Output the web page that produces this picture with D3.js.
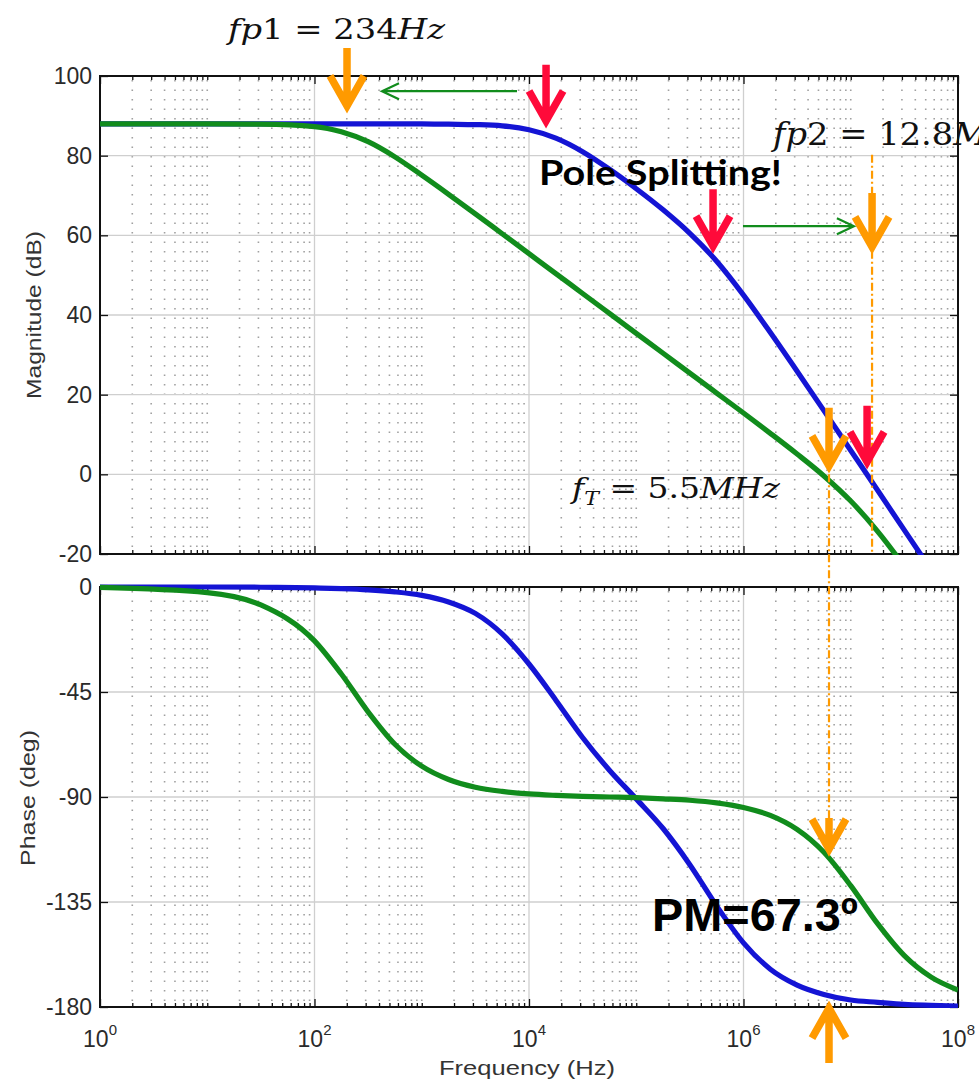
<!DOCTYPE html>
<html>
<head>
<meta charset="utf-8">
<script src="https://cdn.jsdelivr.net/npm/d3@7"></script>
<style>
  body { margin: 0; background: #fff; }
  svg { display: block; }
</style>
</head>
<body>
<div id="chart"></div>
<script>
// frequencies the curves were read at (Hz), quarter-decade steps
const freqHz = [1, 10, 31.6, 100, 178, 316, 562, 1e3, 1.78e3, 3.16e3, 5.62e3,
  1e4, 1.78e4, 3.16e4, 5.62e4, 1e5, 1.78e5, 3.16e5, 5.62e5,
  1e6, 1.78e6, 3.16e6, 5.62e6, 1e7, 1.78e7, 3.16e7, 5.62e7, 1e8];

// magnitude (dB): blue = before compensation, green = after (pole splitting)
const magBlue = [88, 88, 88, 88, 88, 88, 88, 88, 87.9, 87.8, 87.5,
  86.5, 84.4, 81.0, 76.6, 71.7, 66.4, 60.5, 53.5,
  45.0, 35.6, 25.9, 16.0, 6.0, -4.0, -14.0, -24.0, -34.0];
const magGreen = [88, 88, 87.9, 87.3, 86.0, 83.5, 79.7, 75.1, 70.3, 65.4, 60.4,
  55.4, 50.4, 45.4, 40.4, 35.4, 30.4, 25.4, 20.4,
  15.4, 10.3, 5.1, -0.4, -6.7, -14.3, -23.1, -32.7, -42.5];

// phase (deg)
const phaseBlue = [0, 0, -0.1, -0.4, -0.7, -1.2, -2.1, -3.6, -6.4, -11.3, -20.1,
  -33.0, -48.5, -64.5, -78.5, -90.8, -103.5, -119.0, -136.7,
  -152.5, -163.8, -170.6, -174.6, -177.0, -178.0, -178.9, -179.3, -179.6];
const phaseGreen = [-0.2, -2.4, -7.7, -23.1, -37.3, -53.5, -67.4, -76.8, -82.5, -85.8, -87.6,
  -88.7, -89.3, -89.7, -90.0, -90.3, -90.8, -91.4, -92.5,
  -94.5, -97.9, -103.9, -113.7, -128.0, -144.3, -158.0, -167.2, -172.7];

// axis ticks
const majorFreq = [1, 1e2, 1e4, 1e6, 1e8];
const xExponents = ['0', '2', '4', '6', '8'];
const magTicks = [-20, 0, 20, 40, 60, 80, 100];
const phaseTicks = [-180, -135, -90, -45, 0];

// hand-drawn annotations, in data units: [freq Hz, from, to]
const orangeMagArrows = [[201, 107, 91], [1.58e7, 70.6, 55.6], [6.27e6, 16.7, 0.6]];
const redMagArrows = [[14420, 102.8, 87.2], [5.2e5, 71.6, 55.8], [1.42e7, 17.2, 1.6]];
const orangePhaseArrows = [[6.27e6, -99, -114.9], [6.27e6, -204, -177.9]];
// shift arrows: [from Hz, to Hz, dB]
const shiftArrows = [[7727, 426, 96.2], [9.89e5, 1.07e7, 62.3]];

const W = 979, H = 1083;
const BLUE = '#1414d4', GREEN = '#118c1c', ORANGE = '#ff9a00', RED = '#ff0a3a';

const svg = d3.select('#chart').append('svg')
  .attr('width', W).attr('height', H)
  .style('background', '#fff');

const x = d3.scaleLog().domain([1, 1e8]).range([100, 958]);
const yMag = d3.scaleLinear().domain([-20, 100]).range([554, 76]);
const yPh = d3.scaleLinear().domain([-180, 0]).range([1007, 587]);

const minorFreq = x.ticks().filter(d => !majorFreq.includes(d));

function panel(y, yTicks, id, series) {
  const top = y.range()[1], bottom = y.range()[0];
  const left = x.range()[0], right = x.range()[1];
  const g = svg.append('g');

  // minor grid, dotted
  g.append('g').selectAll('line').data(minorFreq).join('line')
    .attr('x1', d => x(d)).attr('x2', d => x(d))
    .attr('y1', top + 4).attr('y2', bottom)
    .attr('stroke', '#a0a0a0').attr('stroke-width', 1.6)
    .attr('stroke-dasharray', '1.6,7.9');

  // major grid
  g.append('g').selectAll('line').data(majorFreq.slice(1, -1)).join('line')
    .attr('x1', d => x(d)).attr('x2', d => x(d))
    .attr('y1', top).attr('y2', bottom)
    .attr('stroke', '#cfcfcf').attr('stroke-width', 1.3);
  g.append('g').selectAll('line').data(yTicks.slice(1, -1)).join('line')
    .attr('x1', left).attr('x2', right)
    .attr('y1', d => y(d)).attr('y2', d => y(d))
    .attr('stroke', '#cfcfcf').attr('stroke-width', 1.3);

  // axes, ticks pointing inward
  const yAxis = g.append('g').attr('transform', `translate(${left},0)`)
    .call(d3.axisLeft(y).tickValues(yTicks).tickSize(-8).tickPadding(8)
      .tickFormat(d => String(d)));
  yAxis.selectAll('text')
    .attr('font-family', 'Liberation Sans, Arial, sans-serif')
    .attr('font-size', 23).attr('fill', '#2a2a2a');
  g.append('g').attr('transform', `translate(${right},0)`)
    .call(d3.axisRight(y).tickValues(yTicks).tickSize(-8).tickFormat(''));
  [[d3.axisBottom, bottom], [d3.axisTop, top]].forEach(([ax, pos]) => {
    g.append('g').attr('transform', `translate(0,${pos})`)
      .call(ax(x).tickValues(majorFreq).tickSize(-8).tickFormat(''));
    g.append('g').attr('transform', `translate(0,${pos})`)
      .call(ax(x).tickValues(minorFreq).tickSize(-4).tickFormat(''));
  });
  g.selectAll('.domain').remove();
  g.selectAll('.tick line').attr('stroke', '#111').attr('stroke-width', 1.3);

  g.append('rect')
    .attr('x', left).attr('y', top)
    .attr('width', right - left).attr('height', bottom - top)
    .attr('fill', 'none').attr('stroke', '#111').attr('stroke-width', 2);

  // curves
  svg.append('clipPath').attr('id', id).append('rect')
    .attr('x', left).attr('y', top - 3)
    .attr('width', right - left).attr('height', bottom - top + 4);
  const line = d3.line()
    .x((d, i) => x(freqHz[i]))
    .y(d => y(d))
    .curve(d3.curveMonotoneX);
  const curves = svg.append('g').attr('clip-path', `url(#${id})`);
  series.forEach(([vals, color]) => {
    curves.append('path')
      .attr('d', line(vals))
      .attr('fill', 'none').attr('stroke', color)
      .attr('stroke-width', 5.2).attr('stroke-linejoin', 'round');
  });
}

panel(yMag, magTicks, 'clipMag', [[magBlue, BLUE], [magGreen, GREEN]]);
panel(yPh, phaseTicks, 'clipPh', [[phaseBlue, BLUE], [phaseGreen, GREEN]]);

// x tick labels, 10^n
const xLabels = svg.append('g')
  .attr('font-family', 'Liberation Sans, Arial, sans-serif')
  .attr('fill', '#2a2a2a');
majorFreq.forEach((f, i) => {
  const t = xLabels.append('text')
    .attr('x', x(f)).attr('y', 1047)
    .attr('text-anchor', 'middle').attr('font-size', 23);
  t.append('tspan').text('10');
  t.append('tspan').attr('font-size', 15).attr('dy', -12).text(xExponents[i]);
});

// axis titles
const titleFont = 'Liberation Sans, Arial, sans-serif';
svg.append('text')
  .attr('transform', 'translate(41,315) rotate(-90)')
  .attr('text-anchor', 'middle')
  .attr('font-family', titleFont).attr('font-size', 20).attr('fill', '#333')
  .attr('textLength', 168).attr('lengthAdjust', 'spacingAndGlyphs')
  .text('Magnitude (dB)');
svg.append('text')
  .attr('transform', 'translate(35,798) rotate(-90)')
  .attr('text-anchor', 'middle')
  .attr('font-family', titleFont).attr('font-size', 20).attr('fill', '#333')
  .attr('textLength', 136).attr('lengthAdjust', 'spacingAndGlyphs')
  .text('Phase (deg)');
svg.append('text')
  .attr('x', 527).attr('y', 1075)
  .attr('text-anchor', 'middle')
  .attr('font-family', titleFont).attr('font-size', 21).attr('fill', '#333')
  .attr('textLength', 176).attr('lengthAdjust', 'spacingAndGlyphs')
  .text('Frequency (Hz)');

// guide lines (dash-dot)
const guides = svg.append('g')
  .attr('stroke', ORANGE).attr('stroke-width', 2.2)
  .attr('stroke-dasharray', '8,3,2,3').attr('fill', 'none');
guides.append('line')
  .attr('x1', x(1.58e7)).attr('x2', x(1.58e7))
  .attr('y1', yMag(80.2)).attr('y2', yMag(-20));
guides.append('line')
  .attr('x1', x(6.27e6)).attr('x2', x(6.27e6))
  .attr('y1', yMag(0)).attr('y2', yPh(-99));

// thick arrows
function thickArrow(px, y0, y1, color) {
  const s = Math.sign(y1 - y0);
  const tip = y1 - 6 * s;
  svg.append('path')
    .attr('d', `M${px},${y0}V${tip}M${px - 17},${tip - 30 * s}L${px},${tip}L${px + 17},${tip - 30 * s}`)
    .attr('fill', 'none').attr('stroke', color)
    .attr('stroke-width', 7.5).attr('stroke-linejoin', 'miter');
}
orangeMagArrows.forEach(([f, a, b]) => thickArrow(x(f), yMag(a), yMag(b), ORANGE));
redMagArrows.forEach(([f, a, b]) => thickArrow(x(f), yMag(a), yMag(b), RED));
orangePhaseArrows.forEach(([f, a, b]) => thickArrow(x(f), yPh(a), yPh(b), ORANGE));

// thin green shift arrows
shiftArrows.forEach(([f0, f1, v]) => {
  const x0 = x(f0), x1 = x(f1), yy = yMag(v);
  const s = Math.sign(x1 - x0);
  svg.append('path')
    .attr('d', `M${x0},${yy}H${x1}M${x1 - 17 * s},${yy - 8}L${x1},${yy}L${x1 - 17 * s},${yy + 8}`)
    .attr('fill', 'none').attr('stroke', GREEN).attr('stroke-width', 2.2);
});

// math labels
const mathFont = 'DejaVu Serif, serif';
function mathText(px, py, size, parts) {
  const t = svg.append('text')
    .attr('x', px).attr('y', py)
    .attr('font-family', mathFont).attr('font-size', size).attr('fill', '#111');
  parts.forEach(p => {
    const sp = t.append('tspan').text(p.t);
    if (p.i) sp.attr('font-style', 'italic');
    if (p.size) sp.attr('font-size', p.size);
    if (p.dy) sp.attr('dy', p.dy);
  });
  return t;
}
mathText(228, 39, 27, [{t: 'fp', i: 1}, {t: '1 = 234'}, {t: 'Hz', i: 1}])
  .attr('textLength', 217).attr('lengthAdjust', 'spacingAndGlyphs');

// runs past the right edge, as in the original slide
mathText(773, 145, 31, [{t: 'fp', i: 1}, {t: '2 = 12.8'}, {t: 'MHz', i: 1}])
  .attr('textLength', 262).attr('lengthAdjust', 'spacingAndGlyphs');

mathText(572, 498, 27, [
  {t: 'f', i: 1}, {t: 'T', i: 1, size: 18, dy: 7}, {t: ' = 5.5', dy: -7}, {t: 'MHz', i: 1}])
  .attr('textLength', 208).attr('lengthAdjust', 'spacingAndGlyphs');

svg.append('text')
  .attr('x', 539).attr('y', 185)
  .attr('font-family', 'Lato, Open Sans, sans-serif')
  .attr('font-weight', 700).attr('font-size', 34).attr('fill', '#000')
  .attr('textLength', 243).attr('lengthAdjust', 'spacingAndGlyphs')
  .text('Pole Splitting!');

svg.append('text')
  .attr('x', 652).attr('y', 931)
  .attr('font-family', 'Liberation Sans, Arial, sans-serif')
  .attr('font-weight', 700).attr('font-size', 46).attr('fill', '#000')
  .attr('textLength', 206).attr('lengthAdjust', 'spacingAndGlyphs')
  .text('PM=67.3º');
</script>
</body>
</html>
